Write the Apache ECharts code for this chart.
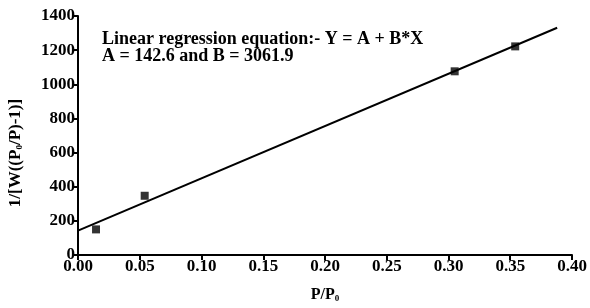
<!DOCTYPE html>
<html>
<head>
<meta charset="utf-8">
<script src="https://cdn.jsdelivr.net/npm/echarts@6/dist/echarts.min.js"></script>
<style>
html, body { margin: 0; padding: 0; background: #fff; }
#main { width: 590px; height: 308px; }
</style>
</head>
<body>
<div id="main"></div>
<script>
// measured points (P/P0, 1/[W((P0/P)-1)])
var pX = [0.0146, 0.054, 0.305, 0.354];
var pY = [150, 347, 1076, 1222];
// fitted line end points
var lineX = [0.0, 0.388];
var lineY = [142.6, 1331];
var xTicks = [0, 0.05, 0.1, 0.15, 0.2, 0.25, 0.3, 0.35, 0.4];
var yTicks = [0, 200, 400, 600, 800, 1000, 1200, 1400];

var font = 'Liberation Serif';
var myChart = echarts.init(document.getElementById('main'));

var pts = pX.map(function (x, i) { return [x, pY[i]]; });
var fit = lineX.map(function (x, i) { return [x, lineY[i]]; });

var option = {
    animation: false,
    grid: { left: 78, right: 18, top: 16, bottom: 49 },
    xAxis: {
        type: 'value',
        min: xTicks[0], max: xTicks[xTicks.length - 1], interval: 0.05,
        axisLine: { lineStyle: { color: '#000', width: 2 } },
        axisTick: { length: 5, lineStyle: { color: '#000', width: 2 } },
        splitLine: { show: false },
        axisLabel: {
            color: '#000', fontFamily: font, fontWeight: 'bold', fontSize: 17, margin: 3,
            formatter: function (v) { return v.toFixed(2); }
        },
        name: '{a|P/P}{s|0}',
        nameLocation: 'middle',
        nameGap: 32,
        nameTextStyle: {
            rich: {
                a: { fontFamily: font, fontWeight: 'bold', fontSize: 16, color: '#000' },
                s: { fontFamily: font, fontWeight: 'bold', fontSize: 9, color: '#000', verticalAlign: 'bottom', padding: [7, 0, 0, 0] }
            }
        }
    },
    yAxis: {
        type: 'value',
        min: yTicks[0], max: yTicks[yTicks.length - 1], interval: 200,
        axisLine: { lineStyle: { color: '#000', width: 2 } },
        axisTick: { length: 5, lineStyle: { color: '#000', width: 2 } },
        splitLine: { show: false },
        axisLabel: {
            color: '#000', fontFamily: font, fontWeight: 'bold', fontSize: 17, margin: 3,
            formatter: function (v) { return String(v); }
        }
    },
    graphic: [{
        type: 'text',
        left: 102, top: 30,
        style: {
            text: 'Linear regression equation:- Y = A + B*X\nA = 142.6 and B = 3061.9',
            font: 'bold 18px "Liberation Serif"',
            fill: '#000',
            lineHeight: 17
        }
    }, {
        type: 'text',
        x: 16, y: 153,
        rotation: Math.PI / 2,
        style: {
            text: '{a|1/[W((P}{s|0}{a|/P)-1)]}',
            align: 'center',
            verticalAlign: 'middle',
            rich: {
                a: { fontFamily: font, fontWeight: 'bold', fontSize: 17, fill: '#000' },
                s: { fontFamily: font, fontWeight: 'bold', fontSize: 9, fill: '#000', verticalAlign: 'bottom', padding: [7, 0, 0, 0] }
            }
        }
    }],
    series: [{
        type: 'line',
        data: fit,
        symbol: 'none',
        lineStyle: { color: '#000', width: 2 },
        z: 2
    }, {
        type: 'scatter',
        data: pts,
        symbol: 'rect',
        symbolSize: 8,
        itemStyle: { color: '#000' },
        z: 3
    }]
};
myChart.setOption(option);
</script>
</body>
</html>
